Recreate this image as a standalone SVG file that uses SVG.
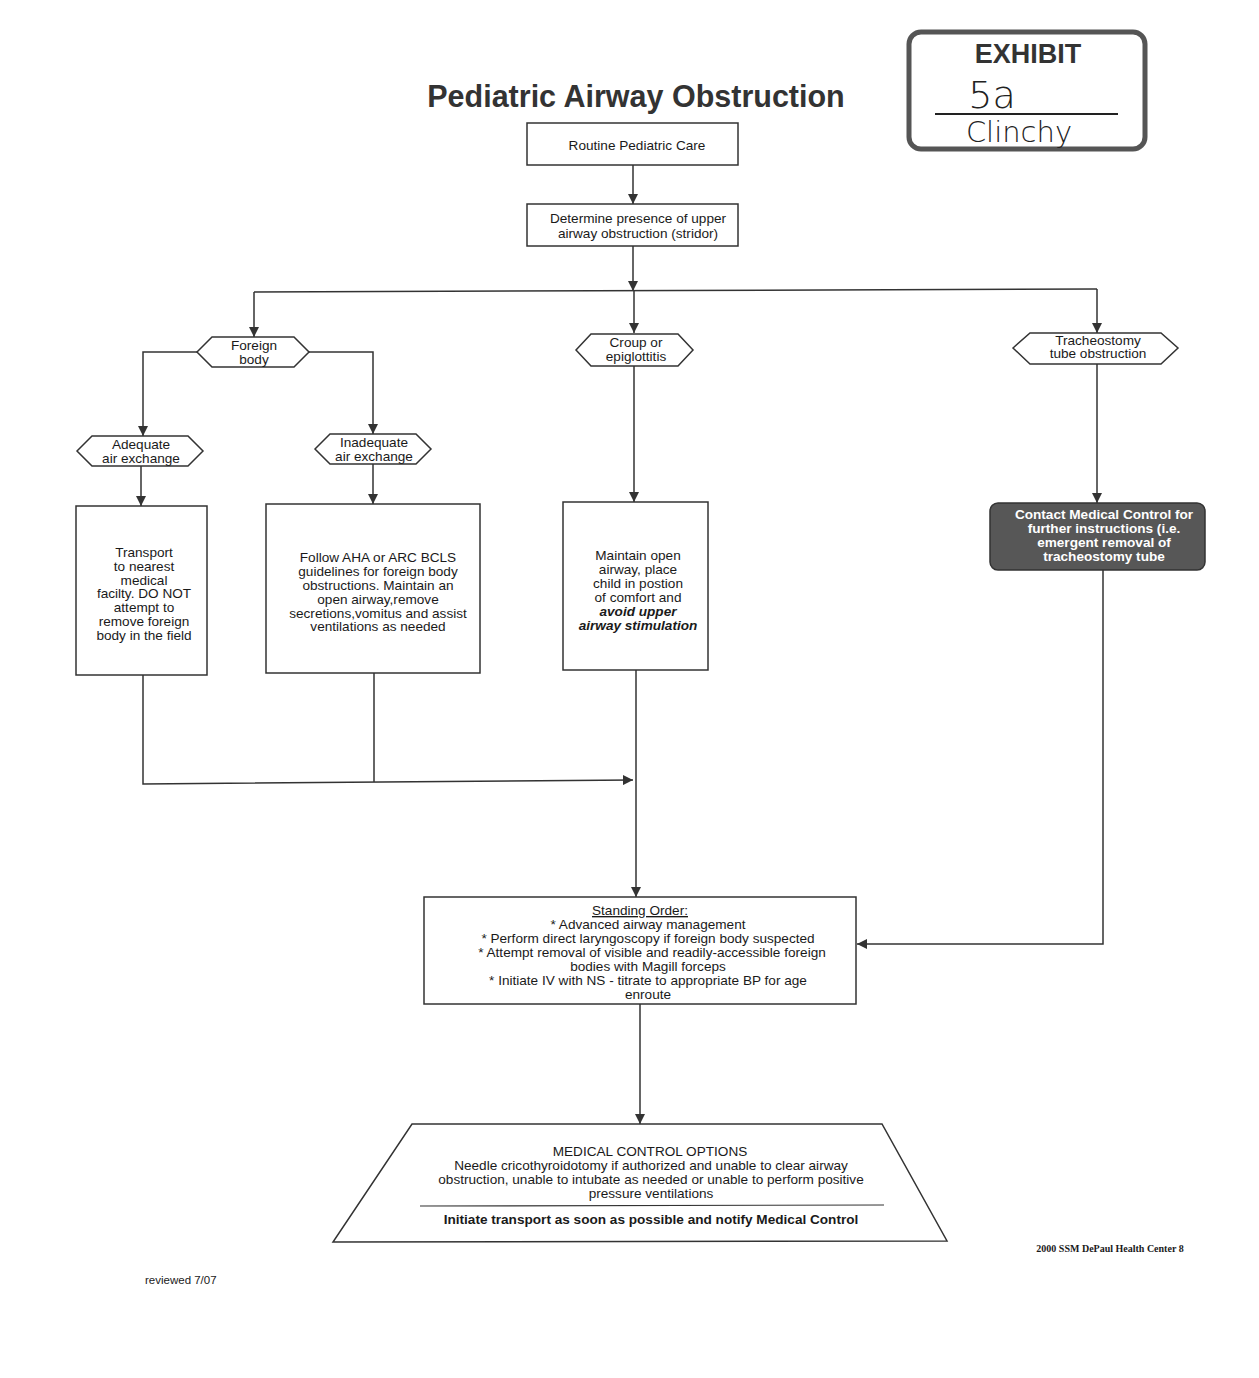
<svg xmlns="http://www.w3.org/2000/svg" width="1259" height="1378" viewBox="0 0 1259 1378">
<defs>
<marker id="ah" viewBox="0 0 10 10" refX="10" refY="5" markerWidth="10" markerHeight="10" markerUnits="userSpaceOnUse" orient="auto">
<path d="M0,0 L10,5 L0,10 z" fill="#333"/>
</marker>
<style>
.t{font-family:"Liberation Sans",Arial,sans-serif;font-size:13.6px;fill:#1a1a1a;text-anchor:middle}
.b{font-weight:bold}
.bi{font-weight:bold;font-style:italic}
.box{fill:#fff;stroke:#333;stroke-width:1.5}
.ln{fill:none;stroke:#333;stroke-width:1.5}
.ar{fill:none;stroke:#333;stroke-width:1.5;marker-end:url(#ah)}
</style>
</defs>
<rect width="1259" height="1378" fill="#fff"/>

<g id="title">
<text x="636" y="107" class="t b" style="font-size:30.5px;fill:#333">Pediatric Airway Obstruction</text>
</g>

<g id="exhibit">
<rect x="909" y="32" width="236" height="117" rx="12" fill="#fff" stroke="#555" stroke-width="5"/>
<text x="1028" y="63" class="t b" style="font-size:27px;fill:#333">EXHIBIT</text>
<text x="992" y="108" class="t" style="font-size:38px;fill:#222;font-family:'DejaVu Sans',sans-serif;font-weight:200">5a</text>
<line x1="935" y1="114" x2="1118" y2="114" stroke="#222" stroke-width="2"/>
<text x="1019" y="142" class="t" style="font-size:29px;fill:#222;font-family:'DejaVu Sans',sans-serif;font-weight:200">Clinchy</text>
</g>

<g id="connectors">
<line class="ar" x1="633" y1="165" x2="633" y2="204"/>
<line class="ar" x1="633" y1="246" x2="633" y2="291"/>
<line class="ln" x1="254" y1="292" x2="1097" y2="289"/>
<line class="ar" x1="254" y1="292" x2="254" y2="337"/>
<line class="ar" x1="634" y1="291" x2="634" y2="333"/>
<line class="ar" x1="1097" y1="289" x2="1097" y2="333"/>
<polyline class="ar" points="197,352 143,352 143,436"/>
<polyline class="ar" points="309,352 373,352 373,434"/>
<line class="ar" x1="141" y1="466" x2="141" y2="506"/>
<line class="ar" x1="373" y1="464" x2="373" y2="504"/>
<line class="ar" x1="634" y1="366" x2="634" y2="502"/>
<line class="ar" x1="1097" y1="364" x2="1097" y2="503"/>
<polyline class="ar" points="143,675 143,784 633,780"/>
<line class="ln" x1="374" y1="673" x2="374" y2="782"/>
<line class="ar" x1="636" y1="670" x2="636" y2="897"/>
<polyline class="ar" points="1103,570 1103,944 857,944"/>
<line class="ar" x1="640" y1="1004" x2="640" y2="1124"/>
</g>

<g id="routine">
<rect class="box" x="527" y="123" width="211" height="42"/>
<text class="t" x="637" y="150">Routine Pediatric Care</text>
</g>

<g id="determine">
<rect class="box" x="527" y="204" width="211" height="42"/>
<text class="t" x="638" y="223">Determine presence of upper</text>
<text class="t" x="638" y="238">airway obstruction (stridor)</text>
</g>

<g id="foreign">
<polygon class="box" points="197,352 212,337 294,337 309,352 294,367 212,367"/>
<text class="t" x="254" y="350">Foreign</text>
<text class="t" x="254" y="364">body</text>
</g>

<g id="croup">
<polygon class="box" points="576,350 591,334 678,334 693,350 678,366 591,366"/>
<text class="t" x="636" y="347">Croup or</text>
<text class="t" x="636" y="361">epiglottitis</text>
</g>

<g id="trach">
<polygon class="box" points="1013,348 1030,333 1161,333 1178,348 1161,364 1030,364"/>
<text class="t" x="1098" y="345">Tracheostomy</text>
<text class="t" x="1098" y="358">tube obstruction</text>
</g>

<g id="adequate">
<polygon class="box" points="77,451 92,436 188,436 203,451 188,466 92,466"/>
<text class="t" x="141" y="449">Adequate</text>
<text class="t" x="141" y="463">air exchange</text>
</g>

<g id="inadequate">
<polygon class="box" points="315,449 330,434 416,434 431,449 416,464 330,464"/>
<text class="t" x="374" y="447">Inadequate</text>
<text class="t" x="374" y="461">air exchange</text>
</g>

<g id="transport">
<rect class="box" x="76" y="506" width="131" height="169"/>
<text class="t" x="144" y="557">Transport</text>
<text class="t" x="144" y="571">to nearest</text>
<text class="t" x="144" y="585">medical</text>
<text class="t" x="144" y="598">facilty. DO NOT</text>
<text class="t" x="144" y="612">attempt to</text>
<text class="t" x="144" y="626">remove foreign</text>
<text class="t" x="144" y="640">body in the field</text>
</g>

<g id="follow">
<rect class="box" x="266" y="504" width="214" height="169"/>
<text class="t" x="378" y="562">Follow AHA or ARC BCLS</text>
<text class="t" x="378" y="576">guidelines for foreign body</text>
<text class="t" x="378" y="590">obstructions. Maintain an</text>
<text class="t" x="378" y="604">open airway,remove</text>
<text class="t" x="378" y="618">secretions,vomitus and assist</text>
<text class="t" x="378" y="631">ventilations as needed</text>
</g>

<g id="maintain">
<rect class="box" x="563" y="502" width="145" height="168"/>
<text class="t" x="638" y="560">Maintain open</text>
<text class="t" x="638" y="574">airway, place</text>
<text class="t" x="638" y="588">child in postion</text>
<text class="t" x="638" y="602">of comfort and</text>
<text class="t bi" x="638" y="616">avoid upper</text>
<text class="t bi" x="638" y="630">airway stimulation</text>
</g>

<g id="contact">
<rect x="990" y="503" width="215" height="67" rx="8" fill="#575757" stroke="#333" stroke-width="1.5"/>
<text class="t b" x="1104" y="519" style="fill:#fff">Contact Medical Control for</text>
<text class="t b" x="1104" y="533" style="fill:#fff">further instructions (i.e.</text>
<text class="t b" x="1104" y="547" style="fill:#fff">emergent removal of</text>
<text class="t b" x="1104" y="561" style="fill:#fff">tracheostomy tube</text>
</g>

<g id="standing">
<rect class="box" x="424" y="897" width="432" height="107"/>
<text class="t" x="640" y="915" text-decoration="underline">Standing Order:</text>
<text class="t" x="648" y="929">* Advanced airway management</text>
<text class="t" x="648" y="943">* Perform direct laryngoscopy if foreign body suspected</text>
<text class="t" x="652" y="957">* Attempt removal of visible and readily-accessible foreign</text>
<text class="t" x="648" y="971">bodies with Magill forceps</text>
<text class="t" x="648" y="985">* Initiate IV with NS - titrate to appropriate BP for age</text>
<text class="t" x="648" y="999">enroute</text>
</g>

<g id="medical">
<polygon class="box" points="412,1124 882,1124 947,1241 333,1242"/>
<text class="t" x="650" y="1156">MEDICAL CONTROL OPTIONS</text>
<text class="t" x="651" y="1170">Needle cricothyroidotomy if authorized and unable to clear airway</text>
<text class="t" x="651" y="1184">obstruction, unable to intubate as needed or unable to perform positive</text>
<text class="t" x="651" y="1198">pressure ventilations</text>
<line x1="420" y1="1206" x2="884" y2="1205" stroke="#333" stroke-width="1.2"/>
<text class="t b" x="651" y="1224">Initiate transport as soon as possible and notify Medical Control</text>
</g>

<g id="footer">
<text x="1110" y="1252" class="t b" style="font-family:'Liberation Serif',serif;font-size:10px">2000 SSM DePaul Health Center 8</text>
<text x="145" y="1284" class="t" style="text-anchor:start;font-size:11.5px">reviewed 7/07</text>
</g>
</svg>
